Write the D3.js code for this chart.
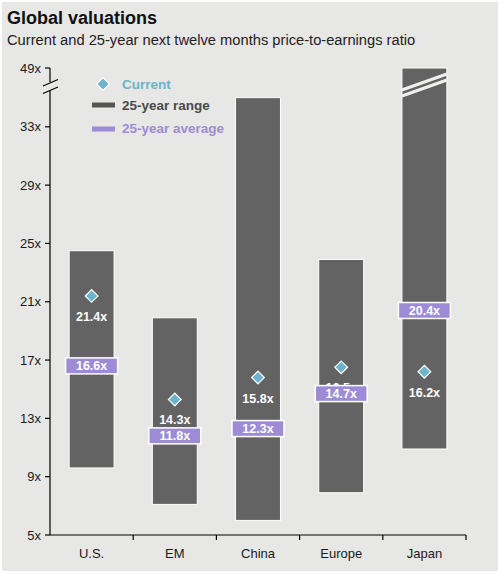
<!DOCTYPE html>
<html><head><meta charset="utf-8">
<script src="https://cdn.jsdelivr.net/npm/d3@7"></script>
<style>
html,body{margin:0;padding:0;background:#fff;}
svg{display:block;font-family:"Liberation Sans",Arial,sans-serif;}
</style></head>
<body><svg id="c" width="500" height="574"></svg>
<script>
const categories = ["U.S.", "EM", "China", "Europe", "Japan"];
const rangeHigh = [24.5, 19.9, 35.0, 23.9, 49.0];
const rangeLow = [9.6, 7.1, 6.0, 7.9, 10.9];
const current = [21.4, 14.3, 15.8, 16.5, 16.2];
const average = [16.6, 11.8, 12.3, 14.7, 20.4];
const yTicks = [5, 9, 13, 17, 21, 25, 29, 33, 49];

const svg = d3.select("#c");
const bg = "#e7e7e5";
svg.append("rect").attr("x",2).attr("y",2).attr("width",496).attr("height",569).attr("fill",bg);

svg.append("text").attr("x",7).attr("y",24).attr("font-size",18).attr("font-weight","bold").attr("fill","#111").text("Global valuations");
svg.append("text").attr("x",7).attr("y",45).attr("font-size",14.7).attr("fill","#222").text("Current and 25-year next twelve months price-to-earnings ratio");

const x0 = 50, x1 = 466, yBase = 535;
const k = (535 - 126.8) / 28;
const y = d3.scaleLinear().domain([5, 36, 49]).range([yBase, yBase - 31 * k, 68]);
const x = d3.scaleBand().domain(categories).range([x0, x1]).padding(0);
const bw = x.bandwidth() * 0.54;
const cx = c => x(c) + x.bandwidth() / 2;

// bars
const data = categories.map((c, i) => ({c, hi: rangeHigh[i], lo: rangeLow[i], cur: current[i], avg: average[i]}));
svg.append("g").selectAll("rect").data(data).join("rect")
  .attr("x", d => cx(d.c) - bw / 2).attr("width", bw)
  .attr("y", d => y(d.hi)).attr("height", d => y(d.lo) - y(d.hi))
  .attr("fill", "#636363").attr("stroke", "#fff").attr("stroke-width", 1);

// Japan break stripes
const jp = data[4];
const jl = cx(jp.c) - bw / 2, jr = cx(jp.c) + bw / 2;
[0, 6].forEach(off => {
  svg.append("line").attr("x1", jl).attr("x2", jr)
    .attr("y1", 90 + off).attr("y2", 74 + off)
    .attr("stroke", "#f0f0ef").attr("stroke-width", 3);
});

// axes
const yAxisG = svg.append("g").attr("stroke", "#000").attr("stroke-width", 1.2);
yAxisG.append("line").attr("x1", x0).attr("x2", x0).attr("y1", yBase).attr("y2", 91);
yAxisG.append("line").attr("x1", x0).attr("x2", x0).attr("y1", 82).attr("y2", y(49));
yAxisG.append("line").attr("x1", 43).attr("x2", 58).attr("y1", 86).attr("y2", 79.5);
yAxisG.append("line").attr("x1", 43).attr("x2", 58).attr("y1", 93.5).attr("y2", 87);
yTicks.forEach(t => {
  yAxisG.append("line").attr("x1", x0 - 5).attr("x2", x0).attr("y1", y(t)).attr("y2", y(t));
  svg.append("text").attr("x", 41).attr("y", y(t) + 4.5).attr("text-anchor", "end")
    .attr("font-size", 13).attr("fill", "#1a1a1a").text(t + "x");
});
const xa = svg.append("g").attr("stroke", "#000").attr("stroke-width", 1.2);
xa.append("line").attr("x1", x0).attr("x2", x1).attr("y1", yBase).attr("y2", yBase);
categories.forEach(c => {
  xa.append("line").attr("x1", x(c) + x.bandwidth()).attr("x2", x(c) + x.bandwidth()).attr("y1", yBase).attr("y2", yBase + 5);
  svg.append("text").attr("x", cx(c)).attr("y", 558).attr("text-anchor", "middle")
    .attr("font-size", 13).attr("fill", "#1a1a1a").text(c);
});

// current diamonds and labels
const diamond = (px, py) => svg.append("rect").attr("x", px - 4.5).attr("y", py - 4.5).attr("width", 9).attr("height", 9)
  .attr("transform", `rotate(45 ${px} ${py})`).attr("fill", "#6db3cb").attr("stroke", "#fff").attr("stroke-width", 1.2);
data.forEach(d => {
  diamond(cx(d.c), y(d.cur));
  svg.append("text").attr("x", cx(d.c)).attr("y", y(d.cur) + 25).attr("text-anchor", "middle")
    .attr("font-size", 12.5).attr("font-weight", "bold").attr("fill", "#fff").text(d.cur.toFixed(1) + "x");
});

// average boxes
data.forEach(d => {
  svg.append("rect").attr("x", cx(d.c) - 26).attr("y", y(d.avg) - 8).attr("width", 52).attr("height", 16)
    .attr("fill", "#9d8bd6").attr("stroke", "#fff").attr("stroke-width", 1.5);
  svg.append("text").attr("x", cx(d.c)).attr("y", y(d.avg) + 4.5).attr("text-anchor", "middle")
    .attr("font-size", 12.5).attr("font-weight", "bold").attr("fill", "#fff").text(d.avg.toFixed(1) + "x");
});

// legend
diamond(103, 84);
svg.append("text").attr("x", 122).attr("y", 89).attr("font-size", 13.5).attr("font-weight", "bold").attr("fill", "#6db3cb").text("Current");
svg.append("rect").attr("x", 92).attr("y", 102.5).attr("width", 23).attr("height", 5).attr("fill", "#555");
svg.append("text").attr("x", 122).attr("y", 110).attr("font-size", 13.5).attr("font-weight", "bold").attr("fill", "#4a4a4a").text("25-year range");
svg.append("rect").attr("x", 92).attr("y", 126.5).attr("width", 23).attr("height", 5).attr("fill", "#9d8bd6");
svg.append("text").attr("x", 122).attr("y", 133).attr("font-size", 13.5).attr("font-weight", "bold").attr("fill", "#9d8bd6").text("25-year average");
</script></body></html>
